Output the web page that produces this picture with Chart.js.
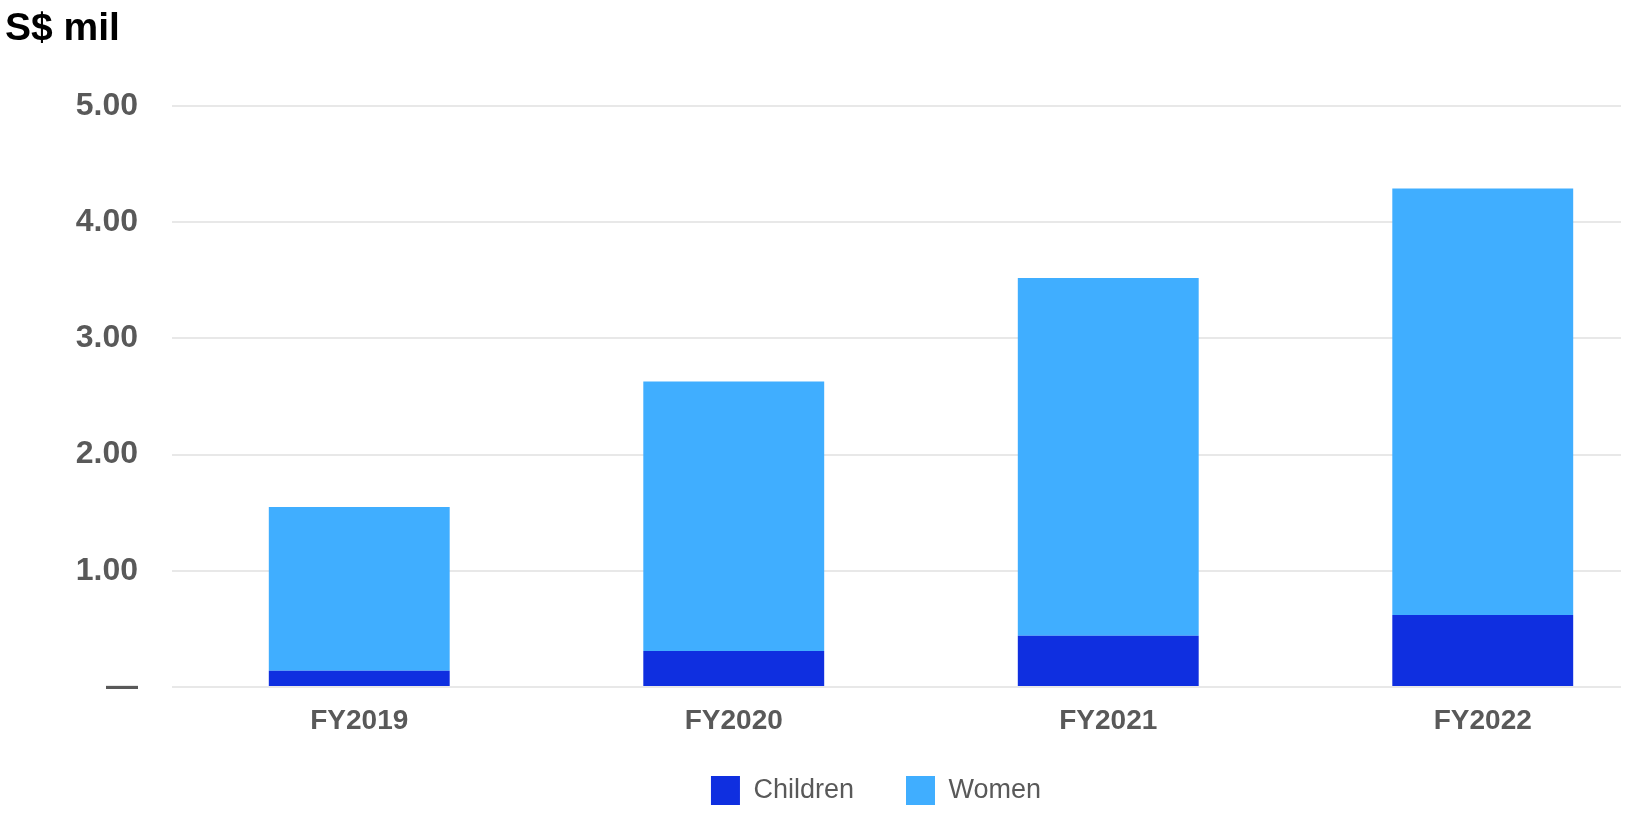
<!DOCTYPE html>
<html>
<head>
<meta charset="utf-8">
<script src="https://cdn.jsdelivr.net/npm/chart.js@4.4.1/dist/chart.umd.min.js"></script>
<style>
  html, body { margin: 0; padding: 0; background: #fff; overflow: hidden; }
  #outer { width: 1621px; height: 815px; overflow: hidden; }
  #wrap { position: relative; width: 1670px; height: 815px; }
  #unit {
    position: absolute; left: 5px; top: 5px;
    font: bold 39px "Liberation Sans", Arial, sans-serif; color: #000;
  }
</style>
</head>
<body>
<div id="outer">
<div id="wrap">
  <canvas id="fundChart" width="1670" height="815"></canvas>
  <div id="unit">S$ mil</div>
</div>
</div>
<script>
// Funding by beneficiary group, S$ million
const years = ['FY2019', 'FY2020', 'FY2021', 'FY2022'];
const children = [0.14, 0.31, 0.44, 0.62];
const women = [1.41, 2.32, 3.08, 3.67];
const yTicks = [0, 1, 2, 3, 4, 5];

const grey = '#595959';
const font = '"Liberation Sans", Arial, sans-serif';

// axis boxes are sized tightly; widen their label clip areas after layout
const unclipLabels = {
  id: 'unclipLabels',
  afterLayout(chart) {
    chart.scales.y.left = 0;
    chart.scales.x.bottom = chart.height;
  }
};

new Chart(document.getElementById('fundChart'), {
  type: 'bar',
  data: {
    labels: years,
    datasets: [
      { label: 'Children', data: children, backgroundColor: '#0f2fe0' },
      { label: 'Women', data: women, backgroundColor: '#40aeff' }
    ]
  },
  options: {
    responsive: false,
    animation: false,
    layout: { padding: { top: 106, left: 82, right: 0, bottom: 0 } },
    datasets: { bar: { categoryPercentage: 1, barPercentage: 0.483 } },
    scales: {
      x: {
        stacked: true,
        grid: { display: false },
        border: { display: false },
        ticks: { color: grey, padding: 12, font: { family: font, size: 28, weight: 'bold', lineHeight: 1 } },
        afterFit: s => { s.height = 37; }
      },
      y: {
        stacked: true,
        min: 0,
        max: 5,
        afterBuildTicks: s => { s.ticks = yTicks.map(v => ({ value: v })); },
        grid: { color: '#e8e8e8', lineWidth: 2, drawTicks: false },
        border: { display: false },
        ticks: {
          color: grey,
          padding: 34,
          font: { family: font, size: 32, weight: 'bold' },
          callback: v => v === 0 ? '—' : v.toFixed(2)
        },
        afterFit: s => { s.width = 90; }
      }
    },
    plugins: {
      tooltip: { enabled: false },
      legend: {
        position: 'bottom',
        labels: {
          boxWidth: 29,
          boxHeight: 29,
          padding: 52,
          color: grey,
          font: { family: font, size: 27 }
        }
      }
    }
  },
  plugins: [unclipLabels]
});
</script>
</body>
</html>
